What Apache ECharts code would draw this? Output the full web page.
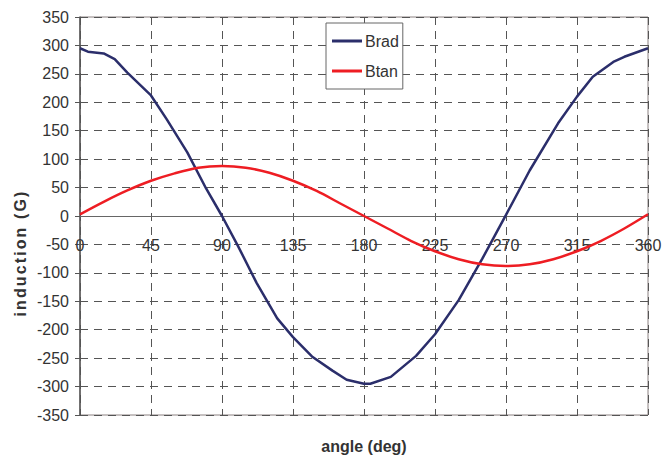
<!DOCTYPE html>
<html>
<head>
<meta charset="utf-8">
<script src="https://cdn.jsdelivr.net/npm/echarts@6/dist/echarts.min.js"></script>
<style>
    html, body { margin: 0; padding: 0; background: #fff; }
    #chart { width: 664px; height: 463px; }
</style>
</head>
<body>
<div id="chart"></div>
<script>
// angle (deg) / induction (G)
const bradAngles = [0, 5, 15, 22, 30, 45, 55, 68, 80, 90, 100, 112, 125, 135, 147, 160, 169, 180, 184, 197, 213, 225, 240, 255, 270, 285, 303, 315, 325, 338, 345, 360];
const bradValues = [295, 289, 286, 276, 252, 212, 170, 112, 48, 0, -52, -118, -180, -213, -247, -272, -288, -295, -295, -283, -246, -208, -148, -75, 2, 80, 163, 210, 245, 271, 280, 295];

const btanAngles = [0, 15, 30, 45, 60, 75, 90, 105, 120, 135, 150, 165, 180, 195, 210, 225, 240, 255, 270, 285, 300, 315, 330, 345, 360];
const btanValues = [3, 25, 45, 62, 75, 85, 88, 85, 76, 62, 44, 22, 0, -22, -44, -62, -76, -85, -88, -85, -76, -62, -44, -22, 3];

const yTicks = {min: -350, max: 350, step: 50};
const xTicks = {min: 0, max: 360, step: 45};

const yTitle = 'induction (G)';
const xTitle = 'angle (deg)';

const zip = (xs, ys) => xs.map((x, i) => [x, ys[i]]);

const chartNode = document.getElementById('chart');
const chart = echarts.init(chartNode, null, {renderer: 'svg'});
const font = 'Liberation Sans, Arial, sans-serif';
const dashed = {color: '#555', type: [8, 6], width: 1};

// plot is 398px tall, zero sits in the middle -> lift the x axis by half
const plotHeight = 463 - 17 - 48;

chart.setOption({
    animation: false,
    textStyle: {fontFamily: font},
    grid: {
        left: 80, right: 16, top: 17, bottom: 48,
        containLabel: false,
        outerBoundsMode: 'none',
        show: true, borderColor: '#8c8282', borderWidth: 1
    },
    legend: {
        orient: 'vertical',
        left: 326, top: 23,
        backgroundColor: '#fff',
        borderColor: '#666', borderWidth: 1,
        padding: [10, 4, 10, 6],
        icon: 'rect',
        itemWidth: 30, itemHeight: 3, itemGap: 14,
        textStyle: {fontSize: 16, color: '#333', padding: [0, 0, 0, -2]},
        data: ['Brad', 'Btan']
    },
    graphic: [{
        type: 'text',
        id: 'yTitle',
        x: 20, y: 253,
        rotation: Math.PI / 2,
        style: {
            text: yTitle,
            fill: '#333',
            font: 'bold 16px ' + font,
            align: 'center',
            verticalAlign: 'middle'
        }
    }],
    xAxis: {
        type: 'value',
        position: 'bottom',
        offset: -plotHeight / 2,
        min: xTicks.min, max: xTicks.max, interval: xTicks.step,
        name: xTitle,
        nameLocation: 'middle',
        nameGap: 222,
        nameTextStyle: {fontSize: 16, fontWeight: 'bold', color: '#333'},
        axisLine: {onZero: false, lineStyle: {color: '#666', width: 1}},
        axisTick: {show: false},
        axisLabel: {fontSize: 16, color: '#333', margin: 21},
        splitLine: {show: true, lineStyle: dashed}
    },
    yAxis: {
        type: 'value',
        min: yTicks.min, max: yTicks.max, interval: yTicks.step,
        axisLine: {show: true, onZero: false, lineStyle: {color: '#555', width: 1.5}},
        axisTick: {show: true, inside: false, length: 5, lineStyle: {color: '#555'}},
        axisLabel: {fontSize: 16, color: '#333', margin: 11},
        splitLine: {show: true, lineStyle: dashed}
    },
    series: [
        {
            name: 'Brad',
            type: 'line',
            symbol: 'none',
            data: zip(bradAngles, bradValues),
            lineStyle: {color: '#2b2e6b', width: 2.5},
            itemStyle: {color: '#2b2e6b'}
        },
        {
            name: 'Btan',
            type: 'line',
            symbol: 'none',
            smooth: 0.3,
            data: zip(btanAngles, btanValues),
            lineStyle: {color: '#ee1d23', width: 2.5},
            itemStyle: {color: '#ee1d23'}
        }
    ]
});

// the original y title is widely letter-spaced
function spreadYTitle() {
    chartNode.querySelectorAll('svg text').forEach(t => {
        if (t.textContent === yTitle) {
            t.style.letterSpacing = '2.1px';
        }
    });
}
spreadYTitle();
chart.on('finished', spreadYTitle);
</script>
</body>
</html>
